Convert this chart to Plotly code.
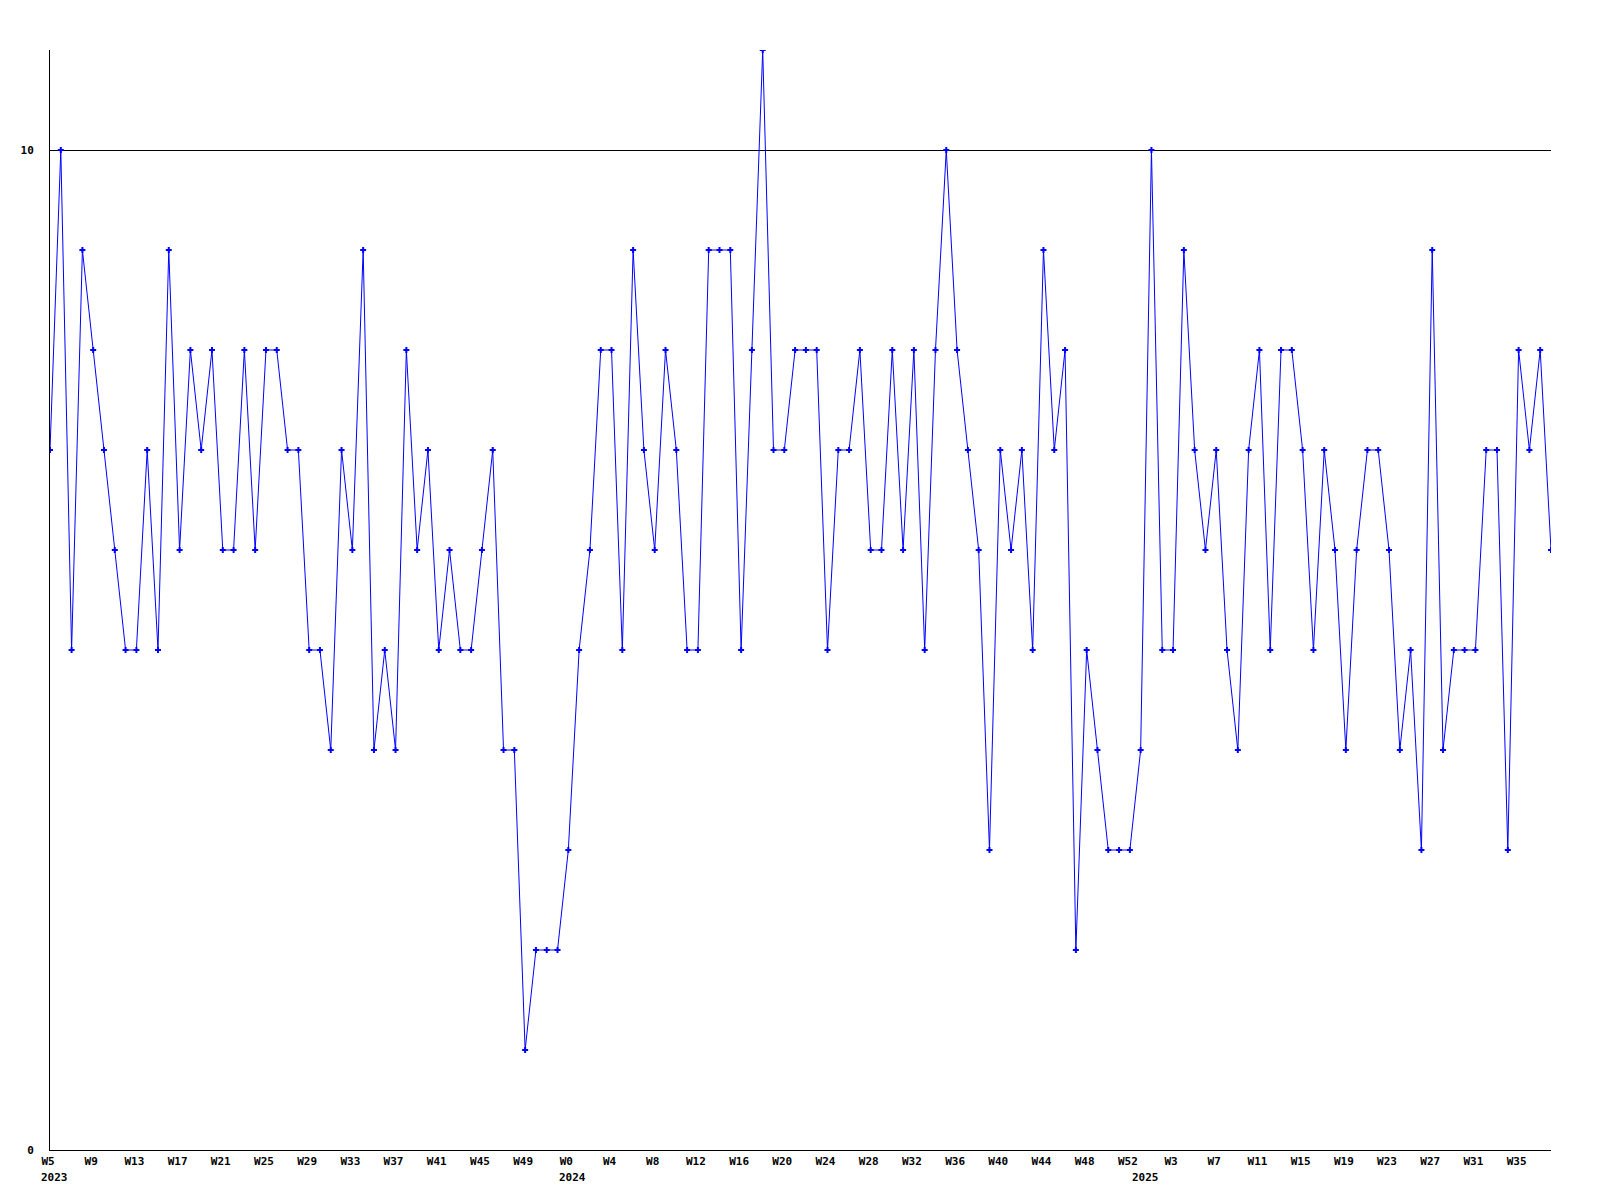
import plotly.graph_objects as go

# Weekly values, 2023 W5 through 2025 W38 (one per week)
values = [
    7, 10, 5, 9, 8, 7, 6, 5, 5, 7, 5, 9, 6, 8, 7, 8, 6, 6, 8, 6,
    8, 8, 7, 7, 5, 5, 4, 7, 6, 9, 4, 5, 4, 8, 6, 7, 5, 6, 5, 5,
    6, 7, 4, 4, 1, 2, 2, 2, 3, 5, 6, 8, 8, 5, 9, 7, 6, 8, 7, 5,
    5, 9, 9, 9, 5, 8, 11, 7, 7, 8, 8, 8, 5, 7, 7, 8, 6, 6, 8, 6,
    8, 5, 8, 10, 8, 7, 6, 3, 7, 6, 7, 5, 9, 7, 8, 2, 5, 4, 3, 3,
    3, 4, 10, 5, 5, 9, 7, 6, 7, 5, 4, 7, 8, 5, 8, 8, 7, 5, 7, 6,
    4, 6, 7, 7, 6, 4, 5, 3, 9, 4, 5, 5, 5, 7, 7, 3, 8, 7, 8, 6,
]

# Week tick labels (every 4th week) and their positions (week index)
tick_positions = [0, 4, 8, 12, 16, 20, 24, 28, 32, 36, 40, 44, 48, 52, 56, 60, 64,
                  68, 72, 76, 80, 84, 88, 92, 96, 100, 104, 108, 112, 116, 120,
                  124, 128, 132, 136]
tick_labels = ["W5", "W9", "W13", "W17", "W21", "W25", "W29", "W33", "W37", "W41",
               "W45", "W49", "W0", "W4", "W8", "W12", "W16", "W20", "W24", "W28",
               "W32", "W36", "W40", "W44", "W48", "W52", "W3", "W7", "W11", "W15",
               "W19", "W23", "W27", "W31", "W35"]

# Year labels and their positions (week index)
year_positions = [0, 48, 101]
year_labels = ["2023", "2024", "2025"]

y_tick_values = [0, 10]
y_tick_labels = ["0", "10"]

x_index = list(range(len(values)))

FONT = "DejaVu Sans Mono"

fig = go.Figure()
fig.add_trace(go.Scatter(
    x=x_index,
    y=values,
    mode="lines+markers",
    line=dict(color="#0000ff", width=1),
    marker=dict(symbol="cross", size=5, color="#0000ff", line=dict(width=0)),
    hoverinfo="x+y",
    showlegend=False,
))

for pos, lab in zip(year_positions, year_labels):
    fig.add_annotation(
        x=pos, y=0, xref="x", yref="y",
        text="<b>%s</b>" % lab,
        showarrow=False,
        xanchor="left", yanchor="middle",
        xshift=-11, yshift=-27,
        font=dict(family=FONT, size=11, color="black"),
    )

fig.update_layout(
    width=1600,
    height=1200,
    margin=dict(l=42, r=57, t=42, b=58, autoexpand=False),
    paper_bgcolor="white",
    plot_bgcolor="white",
    font=dict(family=FONT, size=11, color="black"),
    xaxis=dict(
        range=[0, len(values) - 1],
        tickmode="array",
        tickvals=tick_positions,
        ticktext=["<b>%s</b>" % t for t in tick_labels],
        showgrid=False,
        zeroline=False,
        showline=True,
        linecolor="black",
        linewidth=1,
        ticks="",
        automargin=False,
        ticklabelshift=-2,
        ticklabelstandoff=1,
        tickfont=dict(family=FONT, size=11, color="black"),
    ),
    yaxis=dict(
        range=[0, 11],
        tickmode="array",
        tickvals=y_tick_values,
        ticktext=["<b>%s</b>" % t for t in y_tick_labels],
        showgrid=True,
        gridcolor="black",
        gridwidth=1,
        zeroline=False,
        showline=True,
        linecolor="black",
        linewidth=1,
        ticks="",
        automargin=False,
        ticklabelstandoff=13,
        tickfont=dict(family=FONT, size=11, color="black"),
    ),
)

fig.write_html("out.html")
